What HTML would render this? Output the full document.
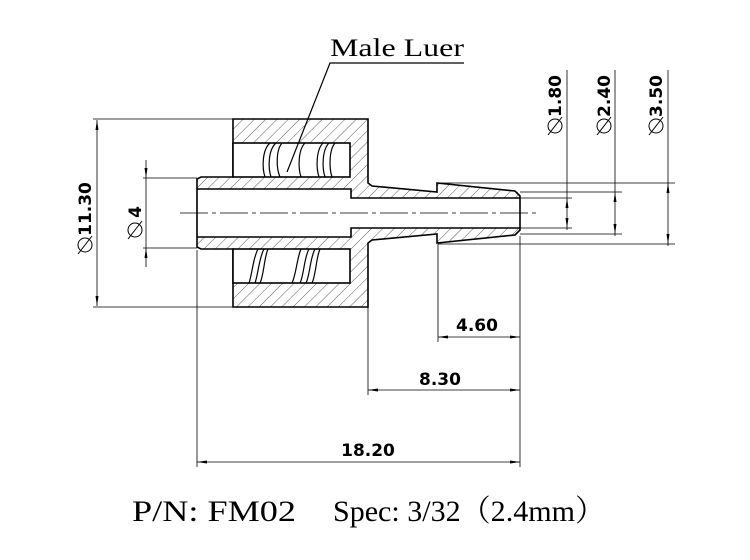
<!DOCTYPE html>
<html><head><meta charset="utf-8"><style>html,body{margin:0;padding:0;background:#fff}svg{display:block}</style></head><body>
<svg width="750" height="560" viewBox="0 0 750 560" xmlns="http://www.w3.org/2000/svg">
<defs>
<pattern id="h" patternUnits="userSpaceOnUse" width="8" height="8" patternTransform="rotate(45)">
<line x1="0" y1="0" x2="0" y2="8" stroke="#333" stroke-width="0.8"/>
</pattern>
</defs>
<path fill="url(#h)" fill-rule="evenodd" stroke="#000" stroke-width="1.6" d="M233,119 H368 V183 L372,186 L437,192 V183 L515,191 L520,196 V230 L515,235 L437,243 V234 L372,240 L368,243 V307 H233 V249 H201 L197,247 V179 L201,177 H233 Z M197,189 H351 V198 H520 V228 H351 V237 H197 Z"/>
<rect x="233" y="143" width="117" height="34" fill="#fff" stroke="#000" stroke-width="1.6"/>
<rect x="233" y="249" width="117" height="34" fill="#fff" stroke="#000" stroke-width="1.6"/>
<g fill="none" stroke="#000" stroke-width="1.2">
<path d="M270,143 C262,150 262,168 265,177 M276,143 C268,150 268,168 271,177 M282,143 C276,150 276,168 280,177 M305,143 C298,150 298,168 301,177 M323,143 C316,150 316,168 319,177 M329,143 C322,150 322,168 325,177 M335,143 C329,150 329,168 332,177"/>
<path d="M258,249 C253,258 252,275 249,283 M264,249 C259,258 258,275 255,283 M268,249 C264,258 264,275 260,283 M301,249 C297,258 296,275 292,283 M309,249 C304,258 304,275 300,283 M315,249 C310,258 310,275 306,283 M320,249 C316,258 316,275 312,283"/>
</g>
<line x1="180" y1="213" x2="537" y2="213" stroke="#000" stroke-width="0.8" stroke-dasharray="28,4,4,4"/>
<path d="M464,63 H330 L287,172" stroke="#000" stroke-width="1.2" fill="none"/>
<text x="330" y="56" font-family="Liberation Serif,serif" font-size="25" textLength="134" lengthAdjust="spacingAndGlyphs">Male Luer</text>
<g stroke="#000" stroke-width="0.8" fill="none">
<path d="M93,119 H233 M93,307 H233 M143,178 H197 M143,248 H197"/>
<line x1="97" y1="120" x2="97" y2="306"/>
<line x1="146" y1="160" x2="146" y2="267"/>
<path d="M438,183 H675 M520,192 H622 M520,198 H572 M520,228 H572 M520,234 H622 M438,244 H675"/>
<line x1="567" y1="70" x2="567" y2="230"/>
<line x1="615" y1="70" x2="615" y2="236"/>
<line x1="668" y1="70" x2="668" y2="246"/>
<path d="M438,244 V342 M368,307 V395 M197,250 V467 M520,236 V467"/>
<line x1="438" y1="337" x2="520" y2="337"/>
<line x1="368" y1="390" x2="520" y2="390"/>
<line x1="197" y1="462" x2="520" y2="462"/>
</g>
<g fill="#000">
<path d="M97,120 l-1.5,10 h3z M97,306 l-1.5,-10 h3z M146,178 l-1.5,-10 h3z M146,248 l-1.5,10 h3z"/>
<path d="M567,198 l-1.5,10 h3z M567,228 l-1.5,-10 h3z M615,192 l-1.5,10 h3z M615,234 l-1.5,-10 h3z M668,183 l-1.5,10 h3z M668,244 l-1.5,-10 h3z"/>
<path d="M438,337 l10,-1.5 v3z M520,337 l-10,-1.5 v3z M368,390 l10,-1.5 v3z M520,390 l-10,-1.5 v3z M197,462 l10,-1.5 v3z M520,462 l-10,-1.5 v3z"/>
</g>
<g font-family="DejaVu Sans,Liberation Sans,sans-serif" font-weight="bold" font-size="17" text-anchor="middle">
<text x="477" y="331">4.60</text>
<text x="440" y="385">8.30</text>
<text x="368" y="456">18.20</text>
<text transform="translate(91,209) rotate(-90)">11.30</text>
<text transform="translate(141,212) rotate(-90)">4</text>
<text transform="translate(561,96) rotate(-90)">1.80</text>
<text transform="translate(610,96) rotate(-90)">2.40</text>
<text transform="translate(662,96) rotate(-90)">3.50</text>
</g>
<g fill="none" stroke="#000" stroke-width="1">
<circle cx="85" cy="245" r="7"/><line x1="78" y1="254" x2="92" y2="236"/>
<circle cx="135" cy="230" r="7"/><line x1="128" y1="239" x2="142" y2="221"/>
<circle cx="555" cy="126" r="7"/><line x1="548" y1="135" x2="562" y2="117"/>
<circle cx="604" cy="126" r="7"/><line x1="597" y1="135" x2="611" y2="117"/>
<circle cx="656" cy="126" r="7"/><line x1="649" y1="135" x2="663" y2="117"/>
</g>
<g font-family="Liberation Serif,'Noto Serif CJK SC',serif" font-size="30">
<text x="132" y="521" textLength="164" lengthAdjust="spacingAndGlyphs">P/N: FM02</text>
<text x="333" y="521" textLength="272" lengthAdjust="spacingAndGlyphs">Spec: 3/32（2.4mm）</text>
</g>
</svg>
</body></html>
